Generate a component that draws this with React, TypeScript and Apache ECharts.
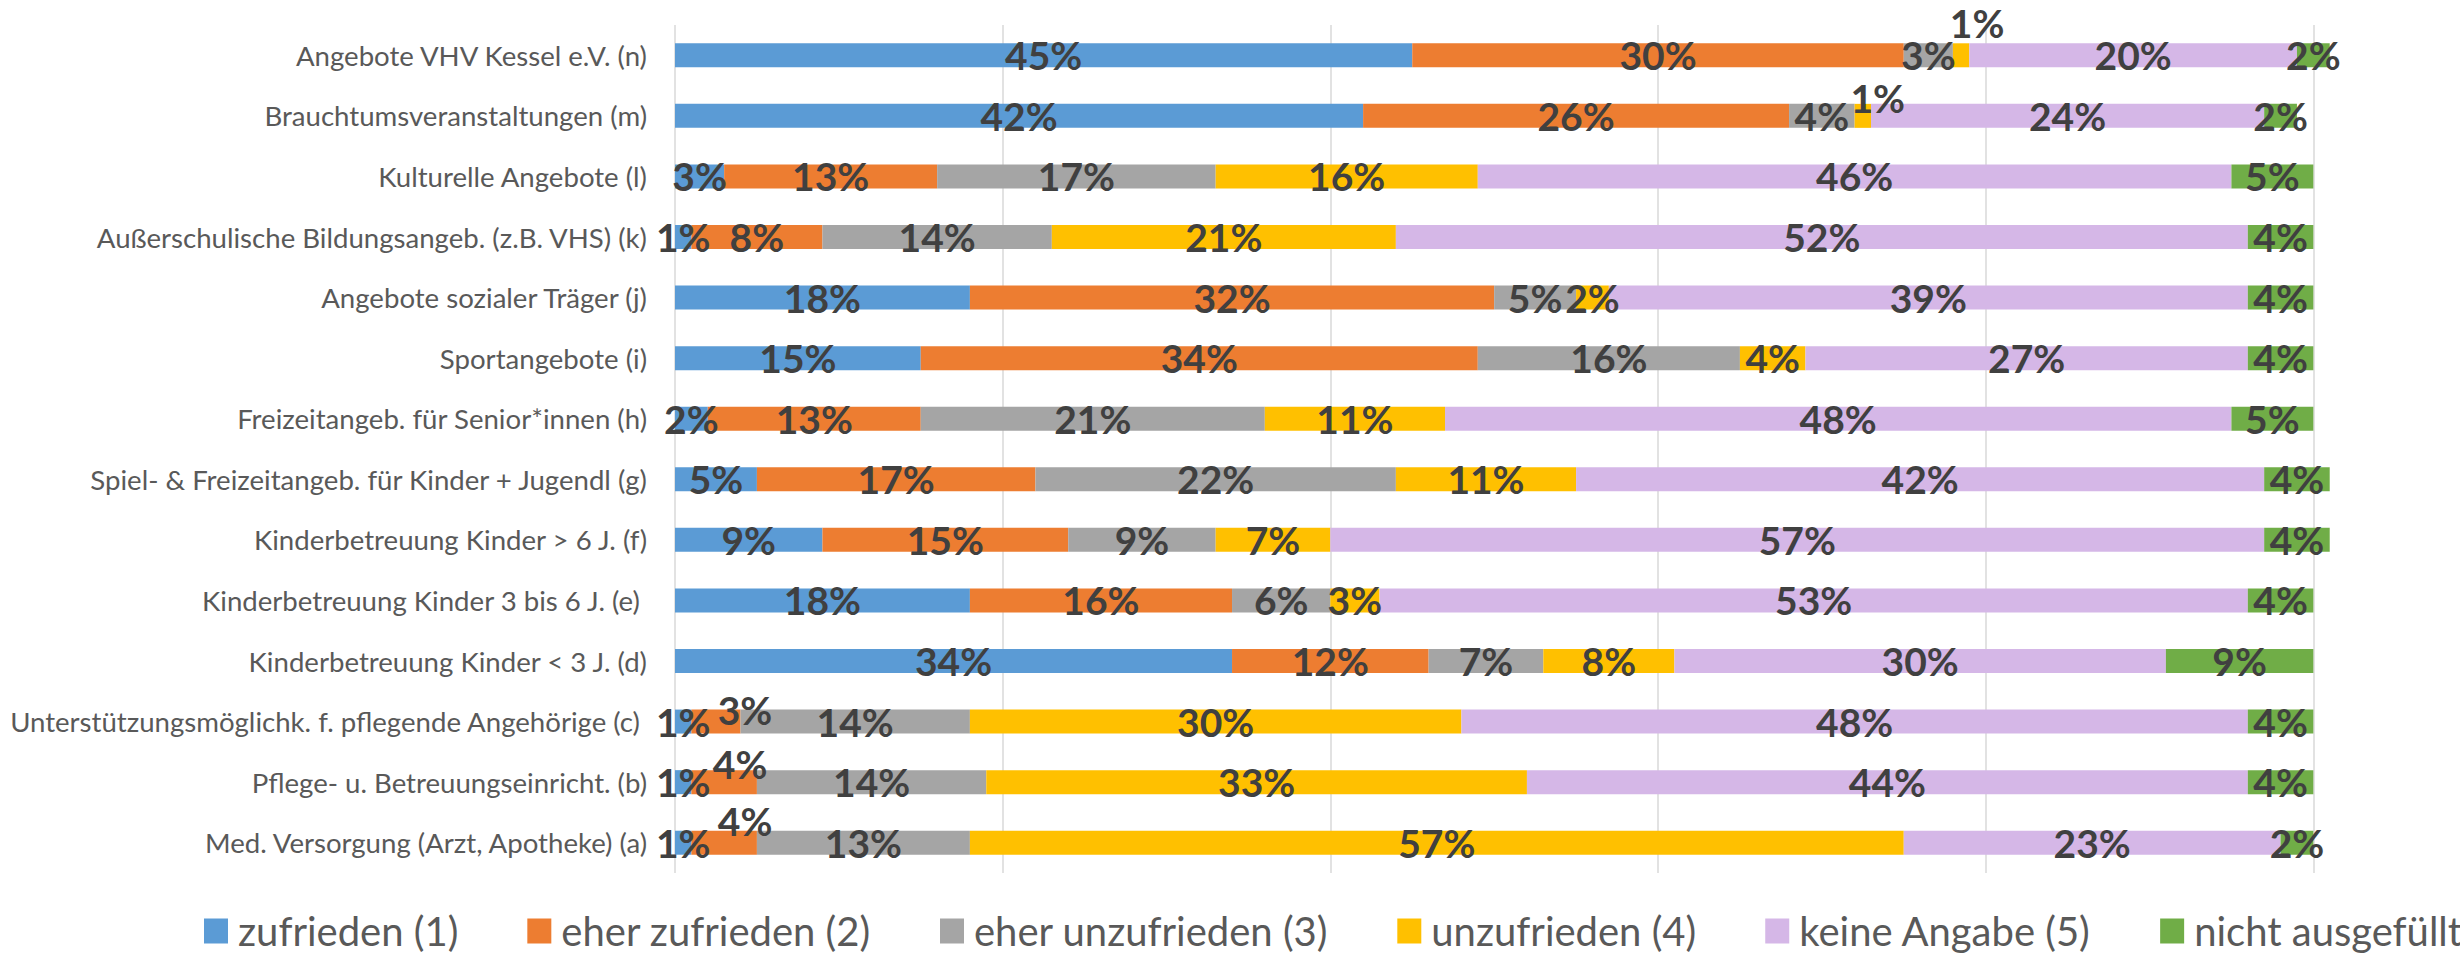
import React, { useEffect, useRef } from "react";
import * as echarts from "echarts";

// Categories from bottom (a) to top (n)
const categories = [
  "Med. Versorgung (Arzt, Apotheke) (a)",
  "Pflege- u. Betreuungseinricht. (b)",
  "Unterstützungsmöglichk. f. pflegende Angehörige (c) ",
  "Kinderbetreuung Kinder < 3 J. (d)",
  "Kinderbetreuung Kinder 3 bis 6 J. (e) ",
  "Kinderbetreuung Kinder > 6 J. (f)",
  "Spiel- & Freizeitangeb. für Kinder + Jugendl (g)",
  "Freizeitangeb. für Senior*innen (h)",
  "Sportangebote (i)",
  "Angebote sozialer Träger (j)",
  "Außerschulische Bildungsangeb. (z.B. VHS) (k)",
  "Kulturelle Angebote (l)",
  "Brauchtumsveranstaltungen (m)",
  "Angebote VHV Kessel e.V. (n)",
];

const seriesNames = [
  "zufrieden (1)",
  "eher zufrieden (2)",
  "eher unzufrieden (3)",
  "unzufrieden (4)",
  "keine Angabe (5)",
  "nicht ausgefüllt",
];

// values in %, same order as categories (a..n)
const zufrieden = [1, 1, 1, 34, 18, 9, 5, 2, 15, 18, 1, 3, 42, 45];
const eherZufrieden = [4, 4, 3, 12, 16, 15, 17, 13, 34, 32, 8, 13, 26, 30];
const eherUnzufrieden = [13, 14, 14, 7, 6, 9, 22, 21, 16, 5, 14, 17, 4, 3];
const unzufrieden = [57, 33, 30, 8, 3, 7, 11, 11, 4, 2, 21, 16, 1, 1];
const keineAngabe = [23, 44, 48, 30, 53, 57, 42, 48, 27, 39, 52, 46, 24, 20];
const nichtAusgefuellt = [2, 4, 4, 9, 4, 4, 4, 5, 4, 4, 4, 5, 2, 2];

const seriesValues = [zufrieden, eherZufrieden, eherUnzufrieden, unzufrieden, keineAngabe, nichtAusgefuellt];
const colors = ["#5B9BD5", "#ED7D31", "#A5A5A5", "#FFC000", "#D5B7E7", "#70AD47"];

// manually moved data labels: [seriesIndex, categoryIndex, dx, dy]
const labelOffsets: [number, number, number, number][] = [
  [3, 13, 16, -32],
  [3, 12, 15, -18],
  [1, 2, 29, -12],
  [1, 1, 16, -18],
  [1, 0, 21, -22],
];

const FONT = "Lato, 'Open Sans', sans-serif";

export default function App() {
  const ref = useRef<HTMLDivElement>(null);
  useEffect(() => {
    if (!ref.current) return;
    const chart = echarts.init(ref.current, undefined, { renderer: "svg" });
    const series = seriesValues.map((vals, si) => ({
      name: seriesNames[si],
      type: "bar",
      stack: "total",
      barWidth: 24,
      itemStyle: { color: colors[si] },
      label: {
        show: true,
        position: "inside",
        formatter: "{c}%",
        fontSize: 39,
        fontWeight: "bold",
        fontFamily: FONT,
        color: "#404040",
        textBorderWidth: 0,
      },
      data: vals.map((v, ci) => {
        const off = labelOffsets.find((o) => o[0] === si && o[1] === ci);
        return off ? { value: v, label: { offset: [off[2], off[3]] } } : v;
      }),
    }));
    chart.setOption({
      animation: false,
      textStyle: { fontFamily: FONT },
      color: colors,
      grid: { left: 675, top: 25, width: 1966, height: 848, containLabel: false },
      legend: {
        data: seriesNames,
        left: 199,
        top: 906,
        icon: "rect",
        itemWidth: 24,
        itemHeight: 25,
        itemGap: 69,
        textStyle: { fontSize: 40, lineHeight: 30, color: "#595959", fontFamily: FONT, padding: [0, 0, 0, 5] },
      },
      xAxis: {
        type: "value",
        min: 0,
        max: 120,
        interval: 20,
        axisLabel: { show: false },
        axisLine: { show: false },
        axisTick: { show: false },
        splitLine: { show: true, lineStyle: { color: "#D9D9D9", width: 1.5 } },
      },
      yAxis: {
        type: "category",
        data: categories,
        axisLine: { show: false },
        axisTick: { show: false },
        axisLabel: { fontSize: 27.6, color: "#595959", fontFamily: FONT, margin: 28 },
      },
      series,
    });
    return () => chart.dispose();
  }, []);
  return (
    <div
      ref={ref}
      style={{ position: "fixed", left: 0, top: 0, width: 2680, height: 955, background: "#fff" }}
    />
  );
}
